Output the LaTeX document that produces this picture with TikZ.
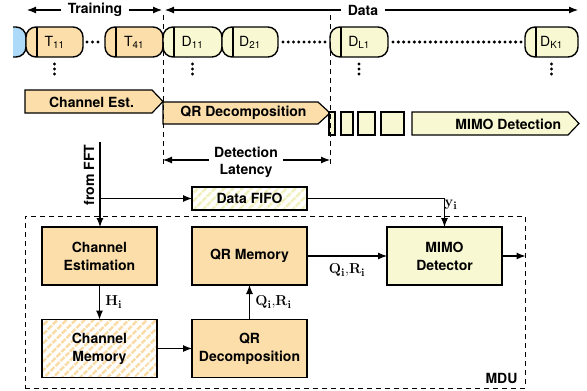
\documentclass[tikz,border=0pt]{standalone}
\usepackage[no-math]{fontspec}
\setmainfont{TeX Gyre Heros}
\usetikzlibrary{arrows.meta,calc,patterns.meta}
\definecolor{phaseor}{RGB}{252,222,170}
\definecolor{phaseyl}{RGB}{248,248,210}
\definecolor{phasebl}{RGB}{172,218,248}
\definecolor{hatchor}{RGB}{250,218,165}
\definecolor{hatchyl}{RGB}{240,240,190}
\begin{document}
\begin{tikzpicture}[x=1pt,y=-1pt,
  font=\fontsize{14}{18}\selectfont\bfseries,
  line width=1.1pt,
  >={Latex[length=9pt,width=7pt]},
  pill/.style={draw, rounded corners=10pt, line width=1.4pt, minimum width=#1,
    minimum height=30, inner sep=0pt, outer sep=0pt,
    font=\fontsize{14}{16}\selectfont\mdseries},
  block/.style={draw, minimum width=115, minimum height=58, align=center,
    inner sep=2pt, outer sep=0pt},
  phase/.style={draw, line width=1.2pt, line join=miter},
  frame/.style={dashed, dash pattern=on 5pt off 4pt, line width=1pt},
  lbl/.style={font=\fontsize{15}{17}\selectfont},
  hatch/.style={pattern={Lines[angle=45,distance=6.5pt,line width=3pt]}, pattern color=#1},
]
\useasboundingbox (0,0) rectangle (587,391);

% ---- time line of symbols ----
\begin{scope}
  \clip (13,20) rectangle (40,65);
  \node[pill=57, fill=phasebl] (tprev) at (-2.5,42) {};
\end{scope}
\node[pill=57, fill=phaseor] (t11) at (54.5,42) {T\textsubscript{11}};
\node[pill=58, fill=phaseor] (t41) at (134,42) {T\textsubscript{41}};
\node[pill=59, fill=phaseyl] (d11) at (192.5,42) {D\textsubscript{11}};
\node[pill=56, fill=phaseyl] (d21) at (250,42) {D\textsubscript{21}};
\node[pill=58, fill=phaseyl] (dl1) at (359,42) {D\textsubscript{L1}};
\node[pill=53, fill=phaseyl] (dk1) at (551.5,42) {D\textsubscript{K1}};
\foreach \p in {t11,t41,d11,d21,dl1,dk1}
  \draw[line width=1.2pt] ($(\p.north west)+(11,0)$) -- ($(\p.south west)+(11,0)$);
\foreach \p in {t11,d11,dl1,dk1}
  \foreach \dy in {7,12,17}
    \fill ($(\p.south)+(0,\dy)$) circle (1.7pt);
\foreach \x in {87,92.5,98} \fill (\x,42) circle (1.7pt);
\foreach \i in {0,...,8} \fill ({283+5.25*\i},42) circle (1.7pt);
\foreach \i in {0,...,24} \fill ({393+5.333*\i},42) circle (1.7pt);

% ---- Training / Data spans ----
\node[inner sep=6pt] (train) at (95,10) {Training};
\node[inner sep=6pt] (data) at (363,10) {Data};
\coordinate (trL) at (27,10);
\coordinate (trR) at (162,10);
\coordinate (daL) at (165,10);
\coordinate (daR) at (578,10);
\draw[->] (train) -- (trL);
\draw[->] (train) -- (trR);
\draw[->] (data) -- (daL);
\draw[->] (data) -- (daR);

% ---- processing phases ----
\draw[phase, fill=phaseor] (25,90) -- (152,90) -- (163,101.5) -- (152,113) -- (25,113) -- cycle;
\node (pce) at (91.5,102) {Channel Est.};
\draw[phase, fill=phaseor] (163,102) -- (318,102) -- (330,113) -- (318,124) -- (163,124) -- cycle;
\node (pqr) at (243.5,113) {QR Decomposition};
\draw[phase, fill=phaseyl] (329,112) rectangle (335,135);
\draw[phase, fill=phaseyl] (341,112) rectangle (353,135);
\draw[phase, fill=phaseyl] (358,112) rectangle (375,135);
\draw[phase, fill=phaseyl] (381,112) rectangle (404,135);
\draw[phase, fill=phaseyl] (412,112) -- (568,112) -- (579,123.5) -- (568,135) -- (412,135) -- cycle;
\node[anchor=east] (pmd) at (565,124) {MIMO Detection};

% ---- latency markers ----
\draw[frame] (163,15) -- (163,164);
\draw[frame] (330,15) -- (330,166);
\node[inner sep=5pt] (det) at (246,152) {Detection};
\node (lat) at (246,171) {Latency};
\coordinate (latL) at (163,160);
\coordinate (latR) at (330,160);
\draw[->] (det.west |- latL) -- (latL);
\draw[->] (det.east |- latR) -- (latR);

% ---- MDU ----
\node[draw, frame, minimum width=500, minimum height=172, inner sep=0pt] (mdu) at (275,302) {};
\node[anchor=south east, inner sep=0pt] (mdulbl) at (518,384) {MDU};

\node[block, fill=phaseor] (chest) at (99.5,256) {Channel\\Estimation};
\node[block, hatch=hatchor] (chmem) at (99.5,348.5) {Channel\\Memory};
\node[block, fill=phaseor] (qrmem) at (249.5,256) {QR Memory};
\node[block, fill=phaseor] (qrdec) at (249.5,348.5) {QR\\Decomposition};
\node[block, fill=phaseyl] (mimo) at (444.5,256) {MIMO\\Detector};
\node[draw, hatch=hatchyl, minimum width=115, minimum height=23, inner sep=0pt, outer sep=0pt]
  (fifo) at (249.5,198.5) {Data FIFO};

\node[rotate=90] (fft) at (89,175) {from FFT};
\coordinate (fftin) at (100,142);
\draw[->] (fftin) -- (fftin |- chest.north);
\draw[->] (fftin |- fifo.west) -- (fifo.west);
\draw[->] (fifo.east) -| (mimo.north);
\node[lbl] (ylbl) at (451,205) {$\mathbf{y_i}$};

\draw[->] (chest) -- (chmem) node[lbl, midway, right=2pt] {$\mathbf{H_i}$};
\draw[->] (chmem) -- (qrdec);
\draw[->] (qrdec) -- (qrmem) node[lbl, midway, right=2pt] {$\mathbf{Q_i},\!\mathbf{R_i}$};
\draw[->] (qrmem) -- (mimo) node[lbl, midway, below=4pt] {$\mathbf{Q_i},\!\mathbf{R_i}$};
\draw[->] (mimo) -- (mimo.east -| mdu.east);
\end{tikzpicture}
\end{document}
